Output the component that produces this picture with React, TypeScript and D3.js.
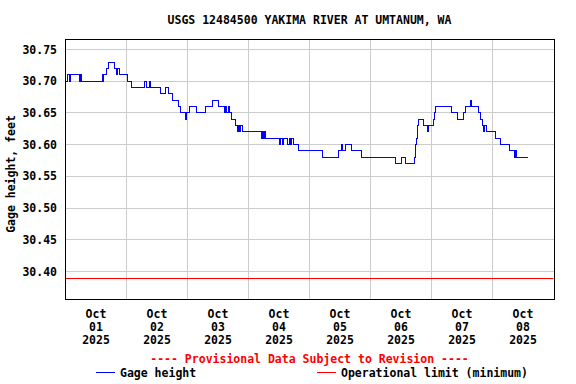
import React from "react";
import * as d3 from "d3";

// Hours since Oct 01 2025 00:00 at which the gage height changes, and the new value
const changeHours = [
  0, 0.9, 1.5, 1.9, 5.6, 6.0, 6.3, 14.4, 14.7, 14.95, 16.1, 16.76, 19.3, 20.2, 20.6, 21.1,
  24.2, 26.0, 31.2, 31.7, 32.9, 33.3, 37.4, 39.5, 40.6, 42.0, 44.5, 45.2, 47.1, 47.8, 48.6,
  51.5, 55.1, 57.8, 60.1, 62.7, 63.1, 63.5, 64.1, 64.6, 65.3, 67.0, 67.6, 67.9, 68.5, 68.8,
  69.6, 77.1, 77.5, 77.8, 78.2, 78.8, 84.0, 84.4, 85.4, 85.9, 87.5, 88.1, 88.6, 89.0, 89.6,
  91.5, 101.2, 107.3, 108.7, 109.1, 110.2, 112.5, 116.5, 129.7, 132.0, 133.7, 137.4, 137.7,
  137.9, 138.1, 138.3, 138.6, 139.0, 141.0, 142.3, 142.7, 144.6, 145.1, 145.7, 151.9, 154.1,
  156.4, 157.4, 159.3, 159.7, 162.4, 163.2, 164.0, 164.4, 164.8, 165.6, 169.0, 171.2, 174.5,
  176.7, 177.1, 177.4, 181.8,
];
const gageHeight = [
  30.70, 30.71, 30.70, 30.71, 30.70, 30.71, 30.70, 30.71, 30.70, 30.71, 30.72, 30.73, 30.72, 30.71, 30.72, 30.71,
  30.70, 30.69, 30.70, 30.69, 30.70, 30.69, 30.68, 30.69, 30.68, 30.67, 30.66, 30.65, 30.64, 30.65, 30.66,
  30.65, 30.66, 30.67, 30.66, 30.65, 30.66, 30.65, 30.66, 30.65, 30.64, 30.63, 30.62, 30.63, 30.62, 30.63,
  30.62, 30.61, 30.62, 30.61, 30.62, 30.61, 30.60, 30.61, 30.60, 30.61, 30.60, 30.61, 30.60, 30.61, 30.60,
  30.59, 30.58, 30.59, 30.60, 30.59, 30.60, 30.59, 30.58, 30.57, 30.58, 30.57, 30.58, 30.59,
  30.60, 30.61, 30.62, 30.63, 30.64, 30.63, 30.62, 30.63, 30.64, 30.65, 30.66, 30.65, 30.64,
  30.65, 30.66, 30.67, 30.66, 30.65, 30.64, 30.63, 30.62, 30.63, 30.62, 30.61, 30.60, 30.59,
  30.58, 30.59, 30.58, 30.58,
];

const operationalLimit = 30.39;
const yTicks = [30.40, 30.45, 30.50, 30.55, 30.60, 30.65, 30.70, 30.75];
const dayMonth = ["Oct", "Oct", "Oct", "Oct", "Oct", "Oct", "Oct", "Oct"];
const dayNum = ["01", "02", "03", "04", "05", "06", "07", "08"];
const dayYear = ["2025", "2025", "2025", "2025", "2025", "2025", "2025", "2025"];

const title = "USGS 12484500 YAKIMA RIVER AT UMTANUM, WA";
const yTitle = "Gage height, feet";
const provisional = "---- Provisional Data Subject to Revision ----";
const legendGage = "Gage height";
const legendLimit = "Operational limit (minimum)";

const FONT = "'DejaVu Sans Mono', 'Liberation Mono', monospace";

export default function App() {
  const left = 65.5, right = 553.5, top = 39.5, bottom = 299.5;
  const x = d3.scaleLinear().domain([0, 192]).range([left, right]);
  const y = d3.scaleLinear().domain([30.40, 30.75]).range([271.5, 49.5]);

  const pts = changeHours.map((h, i) => [h, gageHeight[i]] as [number, number]);
  const line = d3
    .line<[number, number]>()
    .x((d) => x(d[0]))
    .y((d) => y(d[1]))
    .curve(d3.curveStepAfter);

  const dayLines = d3.range(1, 8).map((d) => x(d * 24));
  const plotCx = (left + right) / 2;
  const limitY = Math.round(y(operationalLimit)) + 0.5;

  return (
    <svg
      width={576}
      height={384}
      style={{ position: "absolute", left: 0, top: 0, display: "block", background: "#fff" }}
      fontFamily={FONT}
      fontWeight="bold"
      fontSize={11.5}
    >
      <rect x={0} y={0} width={576} height={384} fill="#fff" />
      <text x={plotCx} y={24} textAnchor="middle" fill="#000">{title}</text>

      {/* grid */}
      <g stroke="#cccccc" strokeWidth={1} shapeRendering="crispEdges">
        {yTicks.map((t) => (
          <line key={"gy" + t} x1={left} x2={right} y1={y(t)} y2={y(t)} />
        ))}
        {dayLines.map((px, i) => (
          <line key={"gx" + i} x1={px} x2={px} y1={top} y2={bottom} />
        ))}
      </g>

      {/* operational limit */}
      <line x1={left} x2={right} y1={limitY} y2={limitY} stroke="#ff0000" strokeWidth={1} />

      {/* data */}
      <path d={line(pts) || ""} fill="none" stroke="#0000ff" strokeWidth={1} shapeRendering="crispEdges" />

      {/* frame */}
      <rect
        x={left}
        y={top}
        width={right - left + 1}
        height={bottom - top}
        fill="none"
        stroke="#000"
        strokeWidth={1}
        shapeRendering="crispEdges"
      />

      {/* y tick labels */}
      {yTicks.map((t) => (
        <text key={"yl" + t} x={57} y={y(t) + 4} textAnchor="end" fill="#000">
          {t.toFixed(2)}
        </text>
      ))}
      <text transform={`translate(15,174) rotate(-90)`} textAnchor="middle" fill="#000">
        {yTitle}
      </text>

      {/* x tick labels */}
      {dayNum.map((dn, i) => {
        const cx = x(i * 24 + 12);
        return (
          <g key={"xl" + i} fill="#000" textAnchor="middle">
            <text x={cx} y={318}>{dayMonth[i]}</text>
            <text x={cx} y={331}>{dn}</text>
            <text x={cx} y={344}>{dayYear[i]}</text>
          </g>
        );
      })}

      <text x={plotCx} y={363} textAnchor="middle" fill="#ff0000">{provisional}</text>

      {/* legend */}
      <rect x={96} y={372} width={19} height={1} fill="#0000ff" />
      <text x={120} y={377} fill="#000">{legendGage}</text>
      <rect x={317} y={372} width={19} height={1} fill="#ff0000" />
      <text x={341} y={377} fill="#000">{legendLimit}</text>
    </svg>
  );
}
